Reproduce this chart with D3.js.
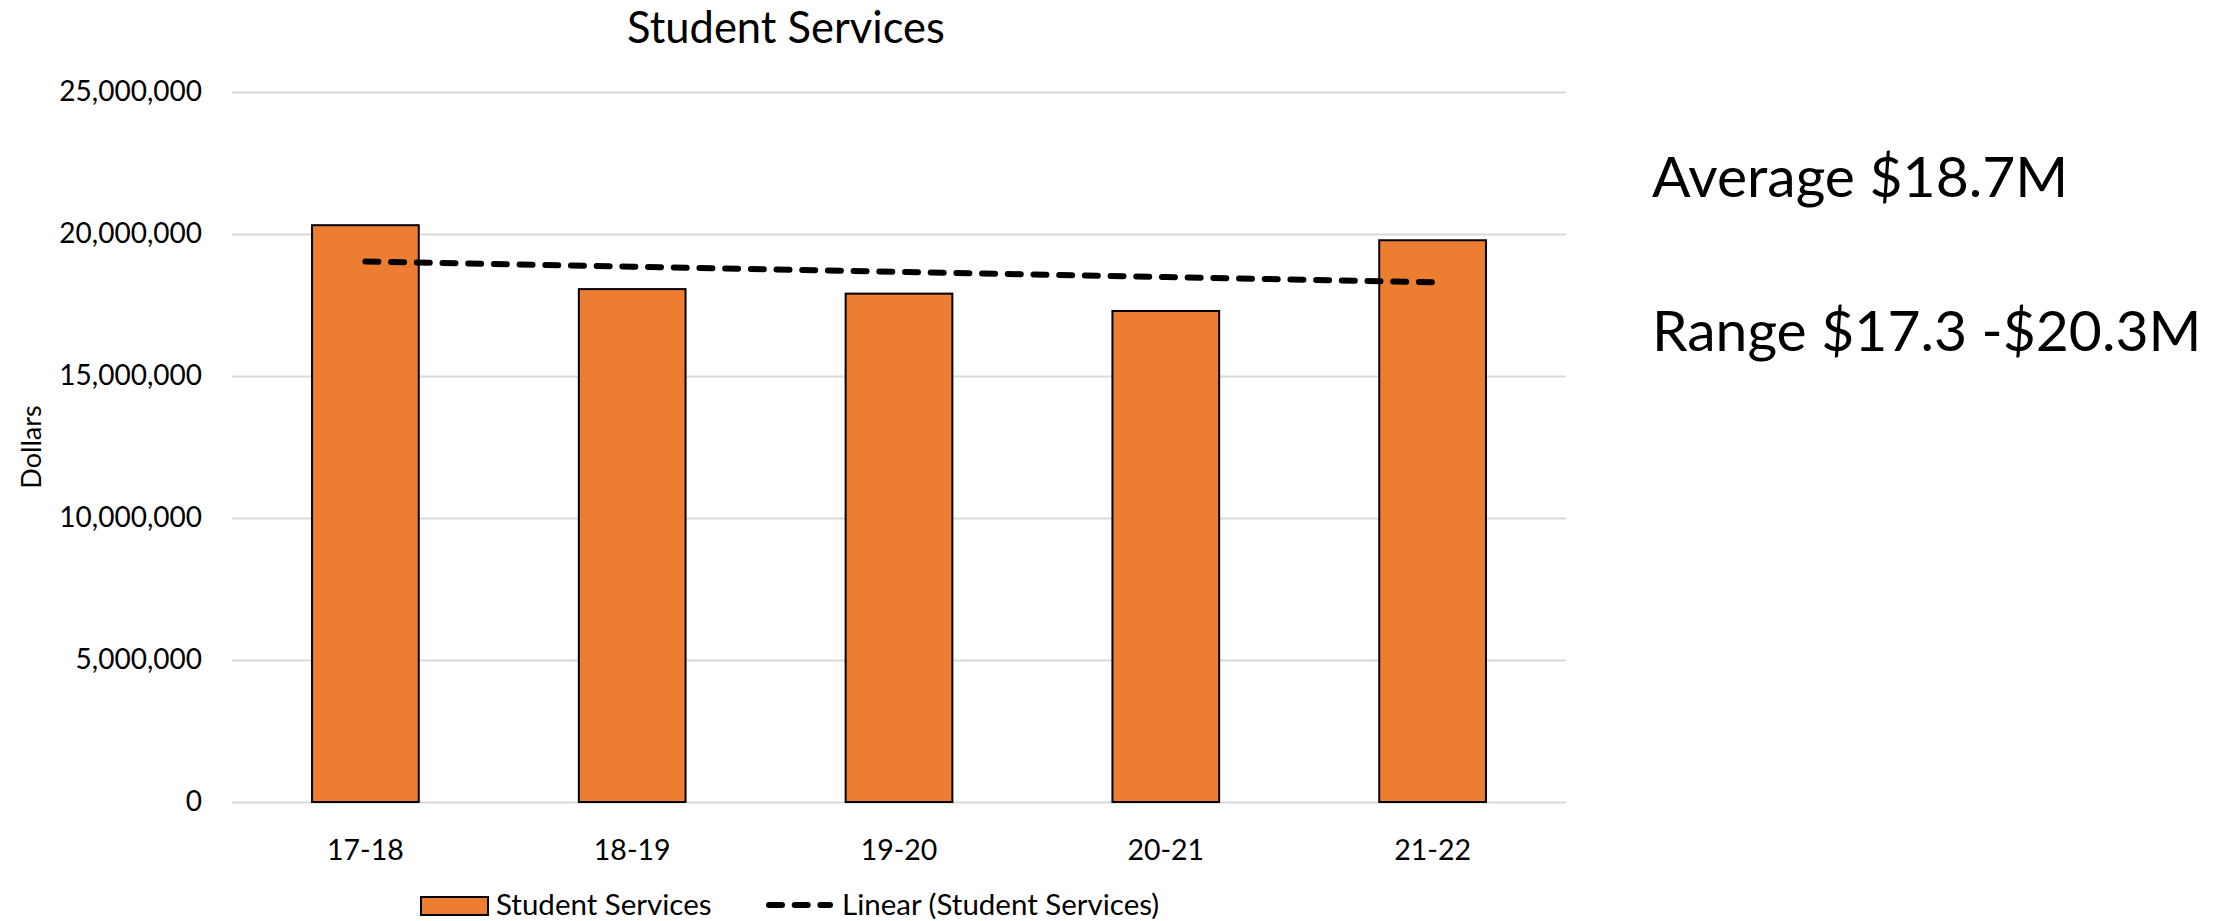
<!DOCTYPE html>
<html>
<head>
<meta charset="utf-8">
<script src="https://cdn.jsdelivr.net/npm/d3@7"></script>
<style>
  html, body { margin: 0; padding: 0; background: #fff; }
  svg { display: block; font-family: Lato, "Open Sans", sans-serif; }
</style>
</head>
<body>
<svg id="chart" width="2231" height="921"></svg>
<script>
// Annual Student Services spending, in dollars
const years = ["17-18", "18-19", "19-20", "20-21", "21-22"];
const spending = [20310000, 18060000, 17900000, 17290000, 19780000];
const yTicks = [0, 5000000, 10000000, 15000000, 20000000, 25000000];
const chartTitle = "Student Services";
const yAxisTitle = "Dollars";
const seriesName = "Student Services";
const trendName = "Linear (Student Services)";
const notes = ["Average $18.7M", "Range $17.3 -$20.3M"];

const svg = d3.select("#chart");
const W = 2231, H = 921;
const plot = { left: 232, right: 1566, top: 92, bottom: 802 };
const orange = "#ED7D31";

svg.append("rect").attr("width", W).attr("height", H).attr("fill", "#fff");

const x = d3.scaleBand()
  .domain(years)
  .range([plot.left, plot.right])
  .paddingInner(0.6)
  .paddingOuter(0.3);

const y = d3.scaleLinear()
  .domain([0, 25000000])
  .range([plot.bottom, plot.top]);

// Horizontal gridlines
const yAxis = d3.axisLeft(y)
  .tickValues(yTicks)
  .tickFormat(d3.format(","))
  .tickSize(-(plot.right - plot.left))
  .tickPadding(30);

const gy = svg.append("g")
  .attr("transform", `translate(${plot.left},0)`)
  .call(yAxis);
gy.select(".domain").remove();
gy.selectAll(".tick line").attr("stroke", "#d9d9d9").attr("stroke-width", 2);
gy.selectAll(".tick text")
  .attr("font-size", 28)
  .attr("fill", "#000")
  .attr("font-family", "Lato, sans-serif");

// Category axis labels
const xAxis = d3.axisBottom(x).tickSize(0).tickPadding(38);
const gx = svg.append("g")
  .attr("transform", `translate(0,${plot.bottom})`)
  .call(xAxis);
gx.select(".domain").remove();
gx.selectAll(".tick text")
  .attr("font-size", 28.5)
  .attr("fill", "#000")
  .attr("font-family", "Lato, sans-serif");

// Bars
svg.append("g")
  .selectAll("rect")
  .data(years.map((yr, i) => ({ yr, v: spending[i] })))
  .join("rect")
  .attr("x", d => x(d.yr))
  .attr("y", d => y(d.v))
  .attr("width", x.bandwidth())
  .attr("height", d => y(0) - y(d.v))
  .attr("fill", orange)
  .attr("stroke", "#000")
  .attr("stroke-width", 2);

// Least-squares linear trend across the periods
const n = spending.length;
const idx = d3.range(n);
const mx = d3.mean(idx), my = d3.mean(spending);
const slope = d3.sum(idx, i => (i - mx) * (spending[i] - my)) / d3.sum(idx, i => (i - mx) ** 2);
const intercept = my - slope * mx;
const trend = idx.map(i => ({ yr: years[i], v: intercept + slope * i }));

svg.append("path")
  .datum(trend)
  .attr("fill", "none")
  .attr("stroke", "#000")
  .attr("stroke-width", 6)
  .attr("stroke-linecap", "round")
  .attr("stroke-dasharray", "13 12.7")
  .attr("d", d3.line()
    .x(d => x(d.yr) + x.bandwidth() / 2)
    .y(d => y(d.v)));

// Title
svg.append("text")
  .attr("x", 786)
  .attr("y", 43)
  .attr("text-anchor", "middle")
  .attr("font-size", 43.5)
  .attr("fill", "#000")
  .text(chartTitle);

// Y axis title
svg.append("text")
  .attr("transform", "translate(41,447) rotate(-90)")
  .attr("text-anchor", "middle")
  .attr("font-size", 27)
  .attr("fill", "#000")
  .text(yAxisTitle);

// Legend
const legend = svg.append("g");
legend.append("rect")
  .attr("x", 421).attr("y", 897)
  .attr("width", 67).attr("height", 18)
  .attr("fill", orange)
  .attr("stroke", "#000")
  .attr("stroke-width", 2);
legend.append("text")
  .attr("x", 496).attr("y", 915)
  .attr("font-size", 29.5)
  .attr("fill", "#000")
  .text(seriesName);
legend.append("line")
  .attr("x1", 769).attr("x2", 830)
  .attr("y1", 905).attr("y2", 905)
  .attr("stroke", "#000")
  .attr("stroke-width", 6)
  .attr("stroke-linecap", "round")
  .attr("stroke-dasharray", "13 12.7");
legend.append("text")
  .attr("x", 842).attr("y", 915)
  .attr("font-size", 29.5)
  .attr("fill", "#000")
  .text(trendName);

// Summary notes
svg.append("g")
  .selectAll("text")
  .data(notes)
  .join("text")
  .attr("x", 1652)
  .attr("y", (d, i) => [197, 351][i])
  .attr("font-size", 57)
  .attr("fill", "#000")
  .text(d => d);
</script>
</body>
</html>
